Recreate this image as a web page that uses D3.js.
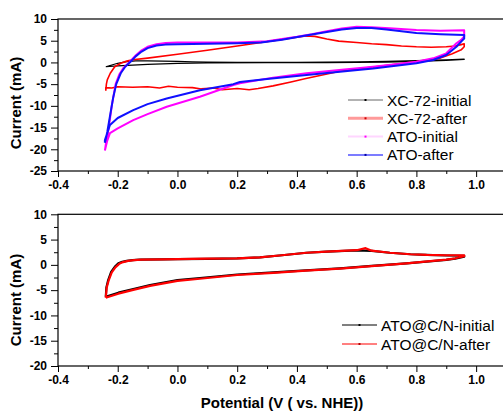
<!DOCTYPE html>
<html>
<head>
<meta charset="utf-8">
<script src="https://cdn.jsdelivr.net/npm/d3@7"></script>
<style>
  html, body { margin: 0; padding: 0; background: #fff; }
  svg { display: block; font-family: "Liberation Sans", Arial, sans-serif; }
  .tick text { font-weight: bold; font-size: 12px; fill: #000; }
  .tick line { stroke: #000; stroke-width: 1; }
</style>
</head>
<body>
<svg id="chart" width="503" height="413"></svg>
<script>
// Axis ticks
const potentialTicks = [-0.4, -0.2, 0.0, 0.2, 0.4, 0.6, 0.8, 1.0];
const potentialMinor = [-0.3, -0.1, 0.1, 0.3, 0.5, 0.7, 0.9, 1.1];
const topCurrentTicks = [10, 5, 0, -5, -10, -15, -20, -25];
const topCurrentMinor = [7.5, 2.5, -2.5, -7.5, -12.5, -17.5, -22.5];
const bottomCurrentTicks = [10, 5, 0, -5, -10, -15, -20];
const bottomCurrentMinor = [7.5, 2.5, -2.5, -7.5, -12.5, -17.5];

// CV loops, [potential (V), current (mA)]: anodic sweep then cathodic sweep
const xc72Initial = [
  [-0.24, -1.0], [-0.22, -0.6], [-0.2, -0.2], [-0.17, 0.2], [-0.14, 0.35], [-0.1, 0.35],
  [-0.05, 0.3], [0.0, 0.25], [0.05, 0.15], [0.1, 0.05], [0.2, 0.0], [0.4, 0.02], [0.5, 0.08],
  [0.6, 0.15], [0.7, 0.25], [0.8, 0.4], [0.9, 0.6], [0.96, 0.75],
  [0.96, 0.7], [0.9, 0.45], [0.8, 0.22], [0.7, 0.08], [0.6, 0.0], [0.5, -0.05], [0.3, -0.05],
  [0.1, -0.1], [0.0, -0.22], [-0.1, -0.45], [-0.2, -0.8], [-0.24, -1.0]
];
const xc72After = [
  [-0.24, -6.5], [-0.238, -5.0], [-0.235, -4.0], [-0.225, -2.5], [-0.21, -1.0], [-0.19, -0.2],
  [-0.17, 0.3], [-0.15, 0.6], [-0.1, 1.0], [0.0, 1.9], [0.1, 2.8], [0.2, 3.8], [0.28, 4.6],
  [0.35, 5.3], [0.4, 5.8], [0.43, 6.1], [0.46, 6.0], [0.5, 5.4], [0.54, 4.9], [0.6, 4.6],
  [0.65, 4.3], [0.7, 4.1], [0.75, 3.8], [0.8, 3.6], [0.85, 3.5], [0.9, 3.6], [0.93, 3.8],
  [0.95, 4.1], [0.96, 4.3],
  [0.96, 3.6], [0.95, 2.9], [0.92, 2.0], [0.88, 1.0], [0.8, 0.2], [0.71, -0.6], [0.6, -1.5],
  [0.54, -2.1], [0.43, -3.7], [0.38, -4.5], [0.32, -5.4], [0.27, -6.0], [0.24, -6.3],
  [0.2, -6.0], [0.15, -6.3], [0.12, -5.9], [0.08, -6.1], [0.05, -5.8], [0.0, -5.7],
  [-0.03, -5.5], [-0.06, -5.9], [-0.1, -5.6], [-0.15, -5.7], [-0.2, -5.6], [-0.22, -5.9],
  [-0.24, -5.8], [-0.24, -6.5]
];
const atoInitial = [
  [-0.243, -20.3], [-0.238, -18.0], [-0.23, -15.0], [-0.22, -10.0], [-0.207, -5.0],
  [-0.195, -2.8], [-0.18, -1.2], [-0.16, 0.1], [-0.14, 1.6], [-0.12, 2.8], [-0.1, 3.6],
  [-0.07, 4.2], [-0.04, 4.5], [0.0, 4.6], [0.1, 4.6], [0.2, 4.6], [0.3, 4.9], [0.4, 5.9],
  [0.45, 6.5], [0.5, 7.2], [0.55, 7.8], [0.6, 8.2], [0.65, 8.1], [0.71, 7.85], [0.8, 7.45],
  [0.88, 7.3], [0.96, 7.4],
  [0.96, 6.0], [0.95, 5.2], [0.934, 4.4], [0.9, 2.1], [0.856, 0.94], [0.8, 0.17],
  [0.73, -0.4], [0.655, -1.0], [0.55, -1.7], [0.432, -2.5], [0.32, -3.5], [0.209, -4.8],
  [0.187, -5.2], [0.075, -7.9], [-0.036, -10.2], [-0.1, -11.9], [-0.148, -13.3],
  [-0.2, -15.2], [-0.226, -16.3], [-0.235, -18.0], [-0.243, -20.3]
];
const atoAfter = [
  [-0.243, -18.5], [-0.235, -16.0], [-0.225, -12.0], [-0.215, -8.0], [-0.205, -5.0],
  [-0.19, -2.5], [-0.175, -1.0], [-0.158, 0.1], [-0.14, 1.4], [-0.12, 2.5], [-0.1, 3.3],
  [-0.07, 3.9], [-0.04, 4.1], [0.0, 4.2], [0.1, 4.3], [0.2, 4.4], [0.28, 4.6], [0.35, 5.2],
  [0.43, 6.2], [0.5, 7.0], [0.55, 7.6], [0.6, 7.9], [0.65, 7.9], [0.7, 7.6], [0.8, 6.8],
  [0.88, 6.5], [0.96, 6.3],
  [0.96, 5.5], [0.95, 4.8], [0.934, 3.6], [0.9, 1.7], [0.856, 0.55], [0.8, -0.2],
  [0.655, -1.4], [0.432, -2.9], [0.3, -3.8], [0.209, -4.5], [0.187, -5.0], [0.075, -6.4],
  [-0.036, -8.3], [-0.1, -9.6], [-0.148, -11.0], [-0.2, -12.8], [-0.226, -14.4],
  [-0.243, -17.9], [-0.243, -18.5]
];
const atoCNInitial = [
  [-0.24, -6.3], [-0.238, -4.5], [-0.232, -3.0], [-0.222, -1.4], [-0.21, -0.4], [-0.198, 0.3],
  [-0.185, 0.6], [-0.17, 0.8], [-0.15, 0.95], [-0.126, 1.05], [-0.05, 1.1], [0.0, 1.15],
  [0.1, 1.2], [0.2, 1.3], [0.276, 1.5], [0.35, 1.9], [0.432, 2.4], [0.5, 2.6], [0.6, 2.85],
  [0.65, 2.75], [0.711, 2.4], [0.78, 2.1], [0.834, 1.96], [0.9, 1.85], [0.96, 1.8],
  [0.96, 1.6], [0.93, 1.25], [0.9, 1.0], [0.767, 0.3], [0.65, -0.2], [0.544, -0.7],
  [0.43, -1.1], [0.321, -1.5], [0.2, -1.9], [0.075, -2.6], [0.0, -3.0], [-0.092, -4.0],
  [-0.148, -4.8], [-0.198, -5.5], [-0.23, -6.1], [-0.24, -6.3]
];
const atoCNAfter = [
  [-0.24, -6.5], [-0.237, -4.5], [-0.23, -3.0], [-0.22, -1.5], [-0.208, -0.5], [-0.195, 0.2],
  [-0.182, 0.55], [-0.165, 0.8], [-0.145, 0.95], [-0.12, 1.05], [-0.05, 1.1], [0.0, 1.15],
  [0.1, 1.25], [0.2, 1.3], [0.276, 1.5], [0.35, 1.9], [0.432, 2.4], [0.5, 2.6], [0.6, 2.9],
  [0.63, 3.3], [0.65, 2.8], [0.711, 2.4], [0.78, 2.1], [0.834, 1.96], [0.9, 1.9], [0.96, 1.9],
  [0.96, 1.7], [0.93, 1.3], [0.9, 1.05], [0.767, 0.3], [0.65, -0.25], [0.544, -0.75],
  [0.43, -1.15], [0.321, -1.6], [0.2, -2.0], [0.075, -2.75], [0.0, -3.15], [-0.092, -4.15],
  [-0.148, -4.95], [-0.198, -5.7], [-0.23, -6.3], [-0.24, -6.5]
];

const topSeries = [
  { name: "XC-72-initial", data: xc72Initial, color: "#000000", width: 1.2,
    legendLine: "#666666", legendWidth: 1, dot: "#000000" },
  { name: "XC-72-after", data: xc72After, color: "#ff0000", width: 1.6,
    legendLine: "#ff9a9a", legendWidth: 3, dot: "#d00000" },
  { name: "ATO-initial", data: atoInitial, color: "#ff00ff", width: 2,
    legendLine: "#ffd6ff", legendWidth: 2, dot: "#ff00ff" },
  { name: "ATO-after", data: atoAfter, color: "#1010ff", width: 2,
    legendLine: "#5050ff", legendWidth: 1.5, dot: "#0000a0" }
];
const bottomSeries = [
  { name: "ATO@C/N-initial", data: atoCNInitial, color: "#000000", width: 2.2,
    legendLine: "#000000", legendWidth: 1, dot: "#000000" },
  { name: "ATO@C/N-after", data: atoCNAfter, color: "#ff0000", width: 2.2,
    legendLine: "#ff0000", legendWidth: 1, dot: "#b00000" }
];

const svg = d3.select("#chart");
const xRange = [58, 506];

function drawPanel(cfg) {
  const x = d3.scaleLinear().domain([-0.4, 1.1]).range(xRange);
  const y = d3.scaleLinear().domain(cfg.yDomain).range(cfg.yRange);
  const g = svg.append("g");
  const [yBot, yTop] = cfg.yRange;

  // frame
  g.append("rect")
    .attr("x", xRange[0]).attr("y", yTop)
    .attr("width", xRange[1] - xRange[0]).attr("height", yBot - yTop)
    .attr("fill", "none").attr("stroke", "#000").attr("stroke-width", 1.2);

  // x axis major + minor
  const xa = g.append("g").attr("transform", `translate(0,${yBot})`)
    .call(d3.axisBottom(x).tickValues(potentialTicks).tickSize(6).tickSizeOuter(0)
      .tickPadding(3).tickFormat(d3.format(".1f")));
  xa.select(".domain").remove();
  xa.selectAll(".tick text").text(d => d3.format(".1f")(d).replace("−", "-"));
  const xm = g.append("g").attr("transform", `translate(0,${yBot})`)
    .call(d3.axisBottom(x).tickValues(potentialMinor).tickSize(3).tickFormat(""));
  xm.select(".domain").remove();

  // y axis major + minor
  const ya = g.append("g").attr("transform", `translate(${xRange[0]},0)`)
    .call(d3.axisLeft(y).tickValues(cfg.yTicks).tickSize(7).tickSizeOuter(0)
      .tickPadding(4).tickFormat(d => String(d)));
  ya.select(".domain").remove();
  const ym = g.append("g").attr("transform", `translate(${xRange[0]},0)`)
    .call(d3.axisLeft(y).tickValues(cfg.yMinor).tickSize(4).tickFormat(""));
  ym.select(".domain").remove();

  // y title
  g.append("text")
    .attr("transform", `translate(21,${cfg.titleY}) rotate(-90)`)
    .attr("text-anchor", "middle")
    .attr("font-weight", "bold").attr("font-size", 15)
    .text("Current (mA)");

  // curves
  const line = d3.line().x(d => x(d[0])).y(d => y(d[1])).curve(d3.curveLinear);
  g.selectAll("path.cv").data(cfg.series).join("path")
    .attr("class", "cv")
    .attr("d", d => line(d.data))
    .attr("fill", "none")
    .attr("stroke", d => d.color)
    .attr("stroke-width", d => d.width)
    .attr("stroke-linejoin", "round");

  // legend
  const lg = g.selectAll("g.leg").data(cfg.series).join("g")
    .attr("class", "leg")
    .attr("transform", (d, i) => `translate(0,${cfg.legendY + i * cfg.legendStep})`);
  lg.append("line")
    .attr("x1", cfg.legendX).attr("x2", cfg.legendX + 35)
    .attr("stroke", d => d.legendLine).attr("stroke-width", d => d.legendWidth);
  lg.append("rect")
    .attr("x", cfg.legendX + 16.5).attr("y", -1).attr("width", 2).attr("height", 2)
    .attr("fill", d => d.dot);
  lg.append("text")
    .attr("x", cfg.legendX + 39).attr("dy", "0.36em")
    .attr("font-size", 15.5)
    .text(d => d.name);
}

drawPanel({
  yDomain: [-25, 10], yRange: [171, 19],
  yTicks: topCurrentTicks, yMinor: topCurrentMinor,
  titleY: 103, series: topSeries,
  legendX: 348, legendY: 100, legendStep: 18.3
});
drawPanel({
  yDomain: [-20, 10], yRange: [366, 214.3],
  yTicks: bottomCurrentTicks, yMinor: bottomCurrentMinor,
  titleY: 300, series: bottomSeries,
  legendX: 342, legendY: 325, legendStep: 19
});

svg.append("text")
  .attr("x", 282).attr("y", 408)
  .attr("text-anchor", "middle")
  .attr("font-weight", "bold").attr("font-size", 15)
  .text("Potential (V ( vs. NHE))");
</script>
</body>
</html>
